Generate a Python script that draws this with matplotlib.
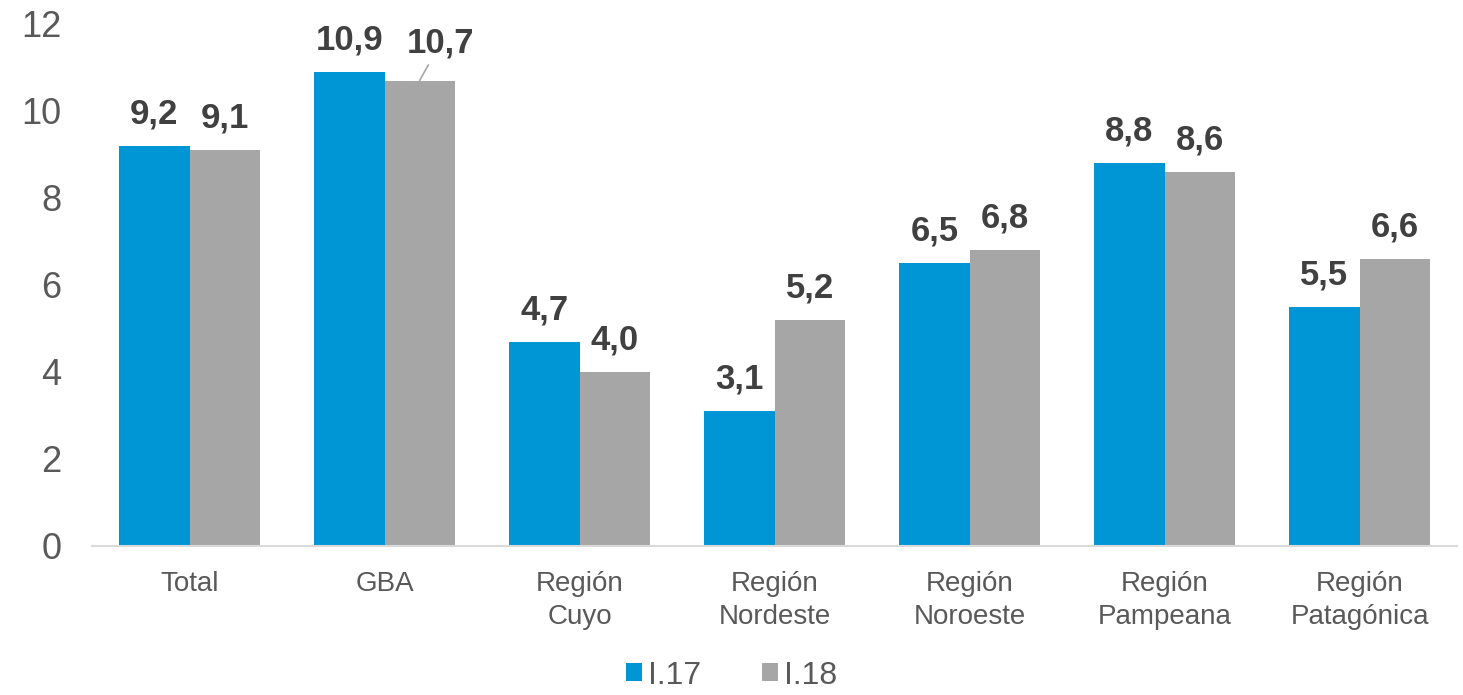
import matplotlib.pyplot as plt
import numpy as np

plt.rcParams['font.family'] = ['Liberation Sans', 'DejaVu Sans']

categories = ["Total", "GBA", "Región\nCuyo", "Región\nNordeste", "Región\nNoroeste",
              "Región\nPampeana", "Región\nPatagónica"]
serie_17 = [9.2, 10.9, 4.7, 3.1, 6.5, 8.8, 5.5]
serie_18 = [9.1, 10.7, 4.0, 5.2, 6.8, 8.6, 6.6]
labels_17 = ["9,2", "10,9", "4,7", "3,1", "6,5", "8,8", "5,5"]
labels_18 = ["9,1", "10,7", "4,0", "5,2", "6,8", "8,6", "6,6"]
series_names = ["I.17", "I.18"]

blue = "#0096D6"
gray = "#A6A6A6"
txt = "#404040"

fig = plt.figure(figsize=(14.63, 6.95), dpi=100)
ax = fig.add_axes([0.0629, 0.2144, 0.933, 0.7511])

x = np.arange(len(categories))
w = 0.36
b1 = ax.bar(x - w / 2, serie_17, w, color=blue, label=series_names[0])
b2 = ax.bar(x + w / 2, serie_18, w, color=gray, label=series_names[1])

for xi, v, lab in zip(x, serie_17, labels_17):
    ax.annotate(lab, (xi - w / 2, v), xytext=(0, 11), textcoords="offset points",
                ha="center", va="bottom", fontsize=25, fontweight="bold", color=txt)
for i, (xi, v, lab) in enumerate(zip(x, serie_18, labels_18)):
    if i == 1:
        # label moved up with a leader line
        ax.annotate(lab, (xi + w / 2, v), xytext=(15, 15), textcoords="offset points",
                    ha="center", va="bottom", fontsize=25, fontweight="bold", color=txt,
                    arrowprops=dict(arrowstyle="-", color="#A6A6A6", lw=1.2,
                                    shrinkA=2, shrinkB=0))
    else:
        ax.annotate(lab, (xi + w / 2, v), xytext=(0, 11), textcoords="offset points",
                    ha="center", va="bottom", fontsize=25, fontweight="bold", color=txt)

ax.set_xlim(-0.5, len(categories) - 0.5)
ax.set_ylim(0, 12)
ax.set_yticks(range(0, 13, 2))
ax.set_xticks(x)
ax.set_xticklabels(categories, fontsize=20, color="#595959", linespacing=1.35)
ax.tick_params(axis="y", labelsize=26, labelcolor="#595959", length=0, pad=22)
ax.tick_params(axis="x", length=0, pad=18)
for s in ["top", "right", "left"]:
    ax.spines[s].set_visible(False)
ax.spines["bottom"].set_color("#D9D9D9")
ax.spines["bottom"].set_linewidth(1.5)

fig.legend(handles=[b1, b2], loc="lower center", bbox_to_anchor=(0.5, -0.035), ncol=2,
           frameon=False, fontsize=23, handlelength=0.5, handleheight=0.5,
           handletextpad=0.2, columnspacing=1.9, labelcolor="#595959")

fig.savefig("out.png", dpi=100)
